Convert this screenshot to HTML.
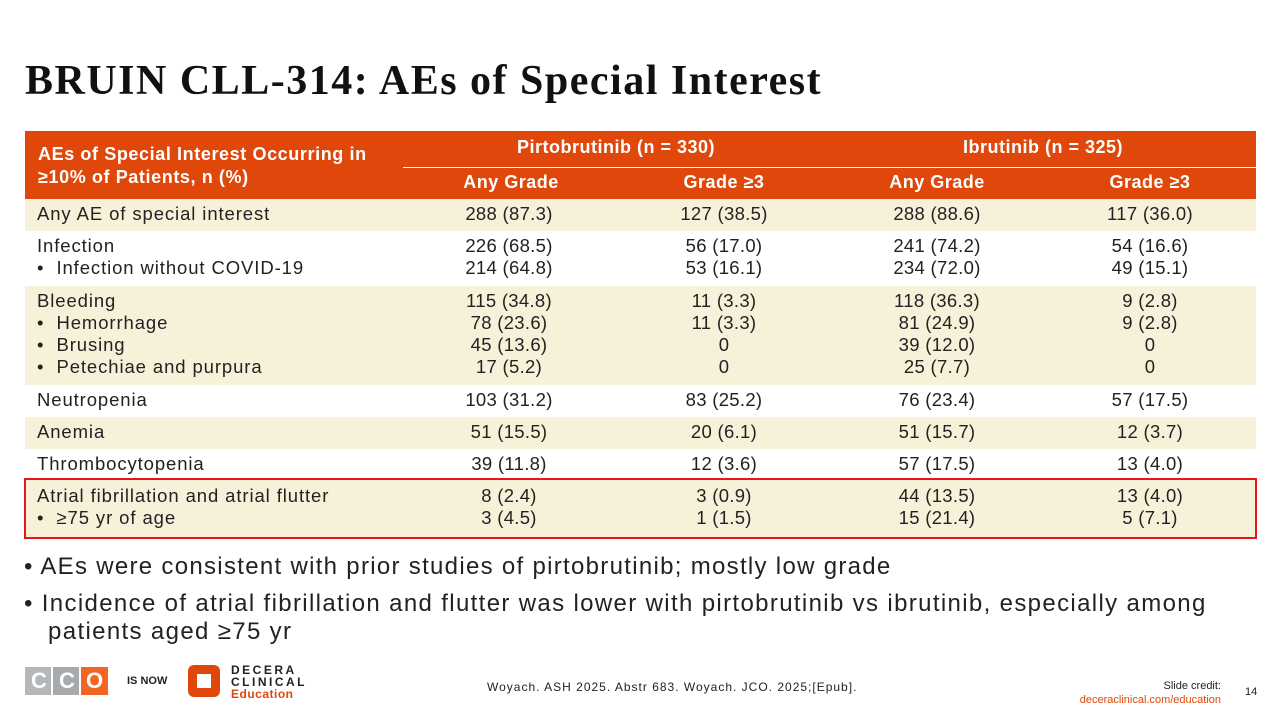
<!DOCTYPE html>
<html><head><meta charset="utf-8"><style>
body{margin:0;width:1280px;height:720px;background:#fff;position:relative;overflow:hidden;font-family:"Liberation Sans",sans-serif;color:#222}
.a{position:absolute;white-space:nowrap}
.t{font-size:18.5px;line-height:22px}
.l{letter-spacing:0.9px}
.c{text-align:center;width:200px;letter-spacing:0.3px}
.h{color:#fff;font-weight:bold;font-size:18px;letter-spacing:0.5px}
</style></head><body>
<div class="a" style="left:25px;top:57px;font-family:'Liberation Serif',serif;font-weight:bold;font-size:42px;color:#111;letter-spacing:1.5px">BRUIN CLL-314: AEs of Special Interest</div>

<div class="a" style="left:25px;top:131px;width:1231px;height:68px;background:#DF470B"></div>
<div class="a" style="left:403px;top:167px;width:853px;height:1px;background:#fff"></div>
<div class="a h" style="left:38px;top:143px;line-height:23px;letter-spacing:0.6px">AEs of Special Interest Occurring in<br>≥10% of Patients, n (%)</div>
<div class="a h c" style="left:516px;top:137px;width:200px">Pirtobrutinib (n = 330)</div>
<div class="a h c" style="left:943px;top:137px">Ibrutinib (n = 325)</div>
<div class="a h c" style="left:411px;top:172px">Any Grade</div>
<div class="a h c" style="left:624px;top:172px">Grade ≥3</div>
<div class="a h c" style="left:837px;top:172px">Any Grade</div>
<div class="a h c" style="left:1050px;top:172px">Grade ≥3</div>

<div class="a" style="left:25px;top:199px;width:1231px;height:32px;background:#F8F1DA"></div>
<div class="a" style="left:25px;top:286px;width:1231px;height:99px;background:#F8F1DA"></div>
<div class="a" style="left:25px;top:417px;width:1231px;height:32px;background:#F8F1DA"></div>
<div class="a" style="left:25px;top:479px;width:1231px;height:59px;background:#F8F1DA"></div>
<div class="a" style="left:25px;top:479px;width:1229px;height:57px;border:2px solid #E8141B;box-sizing:content-box;margin:-1px"></div>

<div class="a t l" style="left:37px;top:203px">Any AE of special interest</div>
<div class="a t l" style="left:37px;top:235px">Infection<br>• &nbsp;Infection without COVID-19</div>
<div class="a t l" style="left:37px;top:290px">Bleeding<br>• &nbsp;Hemorrhage<br>• &nbsp;Brusing<br>• &nbsp;Petechiae and purpura</div>
<div class="a t l" style="left:37px;top:389px">Neutropenia</div>
<div class="a t l" style="left:37px;top:421px">Anemia</div>
<div class="a t l" style="left:37px;top:453px">Thrombocytopenia</div>
<div class="a t l" style="left:37px;top:485px">Atrial fibrillation and atrial flutter<br>• &nbsp;≥75 yr of age</div>

<div class="a t c" style="left:409px;top:203px">288 (87.3)</div>
<div class="a t c" style="left:624px;top:203px">127 (38.5)</div>
<div class="a t c" style="left:837px;top:203px">288 (88.6)</div>
<div class="a t c" style="left:1050px;top:203px">117 (36.0)</div>

<div class="a t c" style="left:409px;top:235px">226 (68.5)<br>214 (64.8)</div>
<div class="a t c" style="left:624px;top:235px">56 (17.0)<br>53 (16.1)</div>
<div class="a t c" style="left:837px;top:235px">241 (74.2)<br>234 (72.0)</div>
<div class="a t c" style="left:1050px;top:235px">54 (16.6)<br>49 (15.1)</div>

<div class="a t c" style="left:409px;top:290px">115 (34.8)<br>78 (23.6)<br>45 (13.6)<br>17 (5.2)</div>
<div class="a t c" style="left:624px;top:290px">11 (3.3)<br>11 (3.3)<br>0<br>0</div>
<div class="a t c" style="left:837px;top:290px">118 (36.3)<br>81 (24.9)<br>39 (12.0)<br>25 (7.7)</div>
<div class="a t c" style="left:1050px;top:290px">9 (2.8)<br>9 (2.8)<br>0<br>0</div>

<div class="a t c" style="left:409px;top:389px">103 (31.2)</div>
<div class="a t c" style="left:624px;top:389px">83 (25.2)</div>
<div class="a t c" style="left:837px;top:389px">76 (23.4)</div>
<div class="a t c" style="left:1050px;top:389px">57 (17.5)</div>

<div class="a t c" style="left:409px;top:421px">51 (15.5)</div>
<div class="a t c" style="left:624px;top:421px">20 (6.1)</div>
<div class="a t c" style="left:837px;top:421px">51 (15.7)</div>
<div class="a t c" style="left:1050px;top:421px">12 (3.7)</div>

<div class="a t c" style="left:409px;top:453px">39 (11.8)</div>
<div class="a t c" style="left:624px;top:453px">12 (3.6)</div>
<div class="a t c" style="left:837px;top:453px">57 (17.5)</div>
<div class="a t c" style="left:1050px;top:453px">13 (4.0)</div>

<div class="a t c" style="left:409px;top:485px">8 (2.4)<br>3 (4.5)</div>
<div class="a t c" style="left:624px;top:485px">3 (0.9)<br>1 (1.5)</div>
<div class="a t c" style="left:837px;top:485px">44 (13.5)<br>15 (21.4)</div>
<div class="a t c" style="left:1050px;top:485px">13 (4.0)<br>5 (7.1)</div>

<div class="a" style="left:24px;top:553px;font-size:24px;line-height:28px;letter-spacing:1.3px">• AEs were consistent with prior studies of pirtobrutinib; mostly low grade</div>
<div class="a" style="left:24px;top:590px;font-size:24px;line-height:28px;letter-spacing:1.35px">• Incidence of atrial fibrillation and flutter was lower with pirtobrutinib vs ibrutinib, especially among<br>&nbsp;&nbsp;&nbsp;patients aged ≥75 yr</div>

<div class="a" style="left:25px;top:667px;width:26px;height:28px;background:#b4b7b9"></div>
<div class="a" style="left:53px;top:667px;width:26px;height:28px;background:#a7aaac"></div>
<div class="a" style="left:81px;top:667px;width:27px;height:28px;background:#F26522"></div>
<div class="a" style="left:31px;top:668px;color:#fff;font-size:22px;font-weight:bold">C</div>
<div class="a" style="left:59px;top:668px;color:#fff;font-size:22px;font-weight:bold">C</div>
<div class="a" style="left:86px;top:668px;color:#fff;font-size:22px;font-weight:bold">O</div>
<div class="a" style="left:127px;top:675px;font-size:11px;font-weight:bold">IS NOW</div>
<div class="a" style="left:188px;top:665px;width:32px;height:32px;background:#E0470B;border-radius:6px"></div>
<div class="a" style="left:197px;top:674px;width:14px;height:14px;background:#fff"></div>
<div class="a" style="left:231px;top:664px;font-size:12px;font-weight:bold;letter-spacing:2.5px;line-height:12px">DECERA<br>CLINICAL</div>
<div class="a" style="left:231px;top:687px;font-size:12px;font-weight:bold;color:#E0470B;letter-spacing:0.5px">Education</div>

<div class="a" style="left:487px;top:680px;font-size:12px;letter-spacing:1px">Woyach. ASH 2025. Abstr 683. Woyach. JCO. 2025;[Epub].</div>
<div class="a" style="right:59px;top:679px;text-align:right;font-size:11px;line-height:14px">Slide credit:<br><span style="color:#E0470B">deceraclinical.com/education</span></div>
<div class="a" style="left:1245px;top:686px;font-size:11px">14</div>
</body></html>
